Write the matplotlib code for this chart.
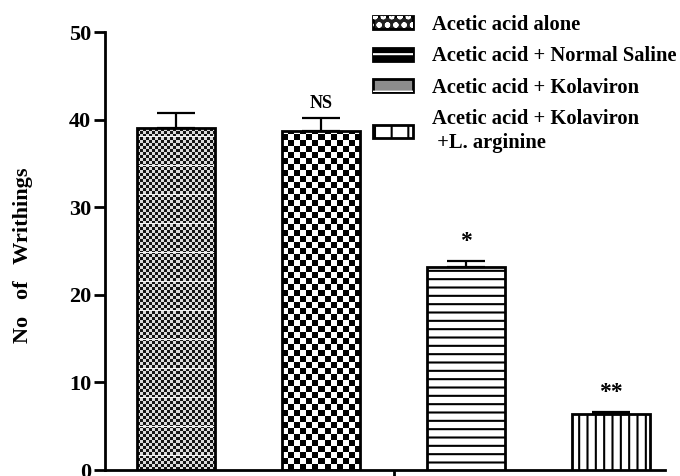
import matplotlib
matplotlib.use("Agg")
import matplotlib.pyplot as plt
import numpy as np
from matplotlib.colors import ListedColormap
from matplotlib.patches import Rectangle
from matplotlib.legend_handler import HandlerTuple

# dati: numero di contorsioni (media + errore standard) per gruppo
gruppi = ["Acetic acid alone",
          "Acetic acid + Normal Saline",
          "Acetic acid + Kolaviron",
          "Acetic acid + Kolaviron\n +L. arginine"]
medie = [39.0, 38.7, 23.2, 6.4]
errori = [1.75, 1.5, 0.7, 0.25]
significativita = ["", "NS", "*", "**"]
tick_y = [0, 10, 20, 30, 40, 50]

plt.rcParams["font.family"] = ["Liberation Serif", "DejaVu Serif"]
plt.rcParams["font.weight"] = "bold"
plt.rcParams["hatch.linewidth"] = 1.5

fig = plt.figure(figsize=(6.8, 4.76), dpi=100)
ax = fig.add_axes([0.1544, 0.0126, 0.8235, 0.920])

x = np.arange(len(medie))
ax.set_xlim(-0.49, 3.372)
ax.set_ylim(0, 50)


def scacchiera(ax, barra, lato, chiaro, scuro, banda=0):
    # riempie la barra con una scacchiera a pixel, ritagliata sul rettangolo
    x0, y0 = barra.get_xy()
    w, h = barra.get_width(), barra.get_height()
    (px0, py0), (px1, py1) = ax.transData.transform([(x0, y0), (x0 + w, y0 + h)])
    nx, ny = int(round(px1 - px0)), int(round(py1 - py0))
    jj, ii = np.meshgrid(np.arange(nx), np.arange(ny))
    celle = ((ii // lato) + (jj // lato)) % 2
    if banda:
        # righe chiare a intervalli regolari
        celle[(ii % banda) == banda // 2] = 2
    colori = ListedColormap([chiaro, scuro, "#f4f4f4"])
    im = ax.imshow(celle, cmap=colori, vmin=0, vmax=2,
                   extent=(x0, x0 + w, y0, y0 + h), origin="lower",
                   interpolation="nearest", aspect="auto", zorder=1)
    im.set_clip_path(barra)


larghezza = 0.538
tratteggi = [None, None, "--", "||"]
barre = ax.bar(x, medie, width=larghezza, color="white", edgecolor="black",
               linewidth=2, zorder=2)
for b, t in zip(barre, tratteggi):
    if t:
        b.set_hatch(t)

# le prime due barre hanno un riempimento a scacchi
barre[0].set_facecolor("none")
barre[1].set_facecolor("none")
scacchiera(ax, barre[0], 3, "#dcdcdc", "#161616", banda=29)
scacchiera(ax, barre[1], 6, "white", "black")
for b in barre:
    b.set_zorder(3)

ax.errorbar(x, medie, yerr=[np.zeros(len(errori)), errori], fmt="none",
            ecolor="black", elinewidth=1.6, capsize=14, capthick=1.6, zorder=4)

for xi, m, e, s in zip(x, medie, errori, significativita):
    if s:
        dim = 13 if s == "NS" else 17
        scarto = 4 if s == "NS" else 6
        ax.annotate(s, (xi, m + e), xytext=(0, scarto), textcoords="offset points",
                    ha="center", va="bottom", fontsize=dim, fontweight="bold")

ax.set_xlim(-0.49, 3.372)
ax.set_ylim(0, 50)
ax.spines["top"].set_visible(False)
ax.spines["right"].set_visible(False)
ax.spines["left"].set_linewidth(2)
ax.spines["bottom"].set_linewidth(2)
ax.set_yticks(tick_y)
ax.tick_params(axis="y", direction="out", length=8, width=2, pad=2, labelsize=16)
ax.set_xticks([1.5])
ax.set_xticklabels([""])
ax.tick_params(axis="x", direction="out", length=6, width=2)
for lab in ax.get_yticklabels():
    lab.set_fontweight("bold")

ax.set_ylabel("No   of   Writhings", fontsize=16, fontweight="bold")
ax.yaxis.set_label_coords(-0.129, 0.49)

# legenda con simboli sovrapposti
maniglie = [
    (Rectangle((0, 0), 1, 1, fc="#222222", ec="black", lw=2),
     Rectangle((0, 0), 1, 1, fc="none", ec="white", hatch="oo", lw=0)),
    (Rectangle((0, 0), 1, 1, fc="black", ec="black", lw=2),
     Rectangle((0, 0), 1, 1, fc="none", ec="white", hatch="--", lw=0)),
    (Rectangle((0, 0), 1, 1, fc="#8c8c8c", ec="black", lw=2),
     Rectangle((0, 0), 1, 1, fc="none", ec="white", hatch="-", lw=0)),
    (Rectangle((0, 0), 1, 1, fc="white", ec="black", lw=2, hatch="|"),),
]
fig.legend(maniglie, gruppi, handler_map={tuple: HandlerTuple(ndivide=1, pad=0)},
           loc="upper left", bbox_to_anchor=(373 / 680, 1 - 15 / 476),
           frameon=False, borderpad=0, borderaxespad=0,
           handlelength=1.95, handleheight=0.6, handletextpad=0.9,
           labelspacing=0.55, prop={"weight": "bold", "size": 14.8,
                                    "stretch": "normal"})
for t in fig.legends[0].get_texts():
    t.set_linespacing(1.3)

fig.savefig("out.png", dpi=100)
